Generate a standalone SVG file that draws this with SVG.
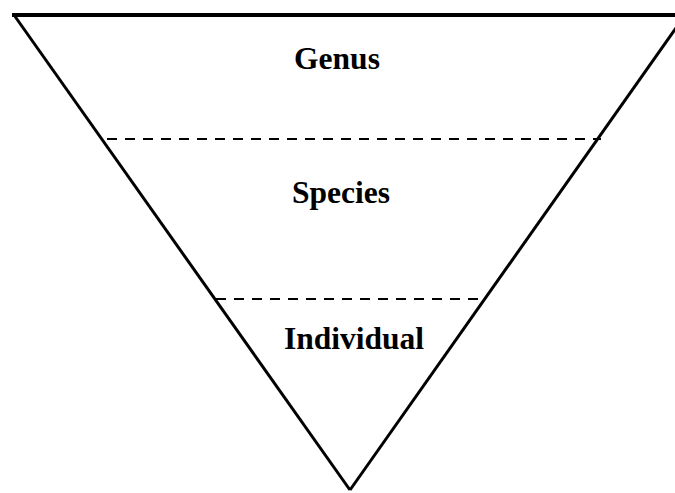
<svg xmlns="http://www.w3.org/2000/svg" width="675" height="493" viewBox="0 0 675 493">
<style>
.edge{stroke:#000;fill:none;stroke-width:3;stroke-linecap:butt}
.top{stroke:#000;fill:none;stroke-width:4}
.dash{stroke:#000;fill:none;stroke-width:2;stroke-dasharray:10 8}
.lbl{font-family:"Liberation Serif","Times New Roman",serif;font-weight:bold;font-size:31.5px;text-anchor:middle;fill:#000}
</style>
<rect width="675" height="493" fill="#fff"/>
<g id="connectors">
<line class="top" x1="12" y1="15" x2="675" y2="15"/>
<line class="edge" x1="14" y1="15" x2="350" y2="490"/>
<line class="edge" x1="350" y1="490" x2="683" y2="18"/>
<line class="dash" x1="107" y1="139" x2="601" y2="139"/>
<line class="dash" x1="216" y1="299" x2="486" y2="299"/>
</g>
<g id="genus"><text class="lbl" x="337" y="69">Genus</text></g>
<g id="species"><text class="lbl" x="341" y="203">Species</text></g>
<g id="individual"><text class="lbl" x="354" y="349">Individual</text></g>
</svg>
